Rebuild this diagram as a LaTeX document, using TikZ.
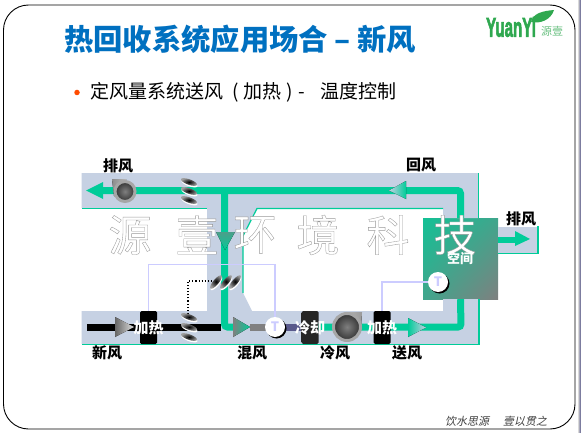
\documentclass[tikz,border=0pt]{standalone}
\usepackage{fontspec}
\setmainfont{Noto Sans CJK SC}
\newfontfamily\slantcjk[FakeSlant=0.2]{Noto Sans CJK SC}
\newfontfamily\logolatin{Liberation Sans}
\usetikzlibrary{arrows.meta,positioning,shapes.geometric,shadows,shadings,calc}
\definecolor{ductblue}{HTML}{C6D1E3}
\definecolor{flowgreen}{HTML}{00CC99}
\definecolor{titleblue}{HTML}{0070C0}
\definecolor{ctrlblue}{HTML}{CCCCFF}
\definecolor{logogreen}{HTML}{2FA84F}
\newcommand{\pxfont}[1]{\fontsize{#1}{#1}\selectfont}
\newcommand{\outlined}[1]{\special{pdf:code 2 Tr 0.35 w 0.6 G}#1\special{pdf:code 0 Tr}}
\newcommand{\thickened}[1]{\special{pdf:code 2 Tr 0.8 w 0.18 0.66 0.31 RG}#1\special{pdf:code 0 Tr}}

\begin{document}
\begin{tikzpicture}[x=1pt, y=-1pt,
  duct/.style={fill=ductblue, draw=none},
  edge/.style={draw=flowgreen, line width=1.2pt},
  flow/.style={draw=flowgreen, line width=7pt, rounded corners=3pt},
  ctrl/.style={draw=ctrlblue, line width=1.4pt},
  lab/.style={font=\pxfont{15}\bfseries, text=black, inner sep=0pt},
  heater/.style={fill=black, rounded corners=1.5pt, minimum width=17pt, minimum height=33pt, inner sep=0pt,
    label={[text=white, font=\pxfont{15}\bfseries]center:加热}},
  sensor/.style={circle, fill=white, minimum size=20pt, inner sep=0pt, font=\pxfont{13}\bfseries, text=ctrlblue,
    drop shadow={shadow xshift=1.5pt, shadow yshift=-1.5pt, fill=black, opacity=1}},
  damper/.style={ellipse, minimum width=17pt, minimum height=5.5pt, inner sep=0pt, inner color=black, outer color=gray!75,
    drop shadow={shadow xshift=.4pt, shadow yshift=-1.5pt, fill=white, opacity=1}},
  fanball/.style={circle, inner sep=0pt, inner color=gray, outer color=black!80, draw=gray!70, line width=3pt},
  wmark/.style={font=\pxfont{43}, text=white, inner sep=0pt}]
\useasboundingbox (0,0) rectangle (581,433);
\fill[white] (0,0) rectangle (581,433);
\fill[left color=gray!30, right color=blue!30!black!70] (578,0) rectangle (581,433);
\draw[black, line width=.9pt, rounded corners=25pt] (3.5,5) rectangle (575,429);
\node[font=\pxfont{29.3}\bfseries, text=titleblue, anchor=west, inner sep=0pt] (title) at (64,39) {热回收系统应用场合 – 新风};
\node[circle, fill=orange!60!red, minimum size=5.5pt, inner sep=0pt] (bullet) at (77,92.5) {};
\node[font=\pxfont{19}, anchor=west, inner sep=0pt] (subtitle) at (90,92) {定风量系统送风\hspace{9pt}(\hspace{5pt}加热\hspace{5pt})\hspace{5pt}-\hspace{16pt}温度控制};
\node[font=\pxfont{27}\bfseries\logolatin, text=logogreen, anchor=west, inner sep=0pt, xscale=.56] (logo) at (486,27) {\thickened{YuanYi}};
\node[font=\pxfont{11}, text=logogreen!70, anchor=west, inner sep=0pt] (logocn) at (541,31) {源壹};
\fill[logogreen] (531,22) .. controls (533,13) and (543,11) .. (554,10) .. controls (551,20) and (540,24) .. (531,22) -- cycle;
\node[font=\pxfont{11}\slantcjk, text=black!75, anchor=west, inner sep=0pt] (motto) at (445,421.5) {饮水思源\hspace{14pt}壹以贯之};
\node[minimum width=75pt, minimum height=81pt, inner sep=0pt, upper left=flowgreen!85!gray, upper right=flowgreen!50!gray, lower left=flowgreen!50!gray, lower right=gray] (room) at (460.5,258.5) {};
\fill[duct] (81.5,173) -- (478,173) -- (478,218) -- (443,218) -- (443,208) -- (257,208) -- (243,236) -- (243,293) -- (252,311)
  -- (443,311) -- (443,299) -- (478,299) -- (478,344) -- (81.5,344) -- (81.5,311) -- (207,311) -- (207,208) -- (81.5,208) -- cycle;
\fill[duct] (498,227) rectangle (538,253);
\draw[edge] (82,208.5) -- (207,208.5);
\draw[edge] (443,208.5) -- (257,208.5) -- (243,236) -- (243,293);
\draw[edge] (478.5,173) -- (478.5,218);
\draw[edge] (82,344.5) -- (479,344.5) -- (479,299);
\draw[edge] (498,253.5) -- (538,253.5) -- (538,226);
\coordinate (junction) at (224.5,190.5);
\coordinate (mixing) at (224.5,327);
\draw[flow] (room.north) |- (103,190.5);
\draw[line width=7pt] (87,327) -- (221,327);
\draw[flow] (junction) -- (mixing) -- (240,327);
\draw[line width=7pt, gray] (250,327) -- (275,327);
\draw[line width=7pt, blue!30!black!65] (275,327) -- (305,327);
\draw[flow] (315,327) -- (461,327) -- (room.south);
\draw[draw=flowgreen, line width=6.5pt] (498,240) -- (516,240);
\fill[flowgreen] (103,182) -- (86,190.5) -- (103,199) -- cycle;
\fill[left color=ductblue, right color=flowgreen] (406,181) -- (389,190.5) -- (406,199) -- cycle;
\fill[top color=gray!60!flowgreen, bottom color=flowgreen] (216,232) -- (235,232) -- (225,250) -- cycle;
\fill[left color=black!60, right color=gray!25] (115,317) -- (134,327) -- (115,337) -- cycle;
\fill[left color=gray, right color=flowgreen] (233,317) -- (250,327) -- (233,337) -- cycle;
\fill[left color=flowgreen, right color=ductblue] (408,318) -- (426,327.5) -- (408,337) -- cycle;
\fill[flowgreen] (515,231) -- (530,239) -- (515,246) -- cycle;
\node[heater] (heatA) at (148.5,327.5) {};
\node[heater] (heatB) at (382,327.5) {};
\node[minimum width=17pt, minimum height=33pt, inner sep=0pt, rounded corners=1.5pt, left color=black!85, middle color=blue!15!gray!70, right color=black!85,
  label={[text=white, font=\pxfont{15}\bfseries]center:冷却}] (coil) at (310,327.5) {};
\node[sensor] (senseA) at (275,327) {T};
\node[sensor] (senseB) at (438,282) {T};
\coordinate (ctrlend) at (275,264.5);
\draw[ctrl] (heatA.north) |- (ctrlend) -- (senseA.north);
\draw[ctrl] (heatB.north) |- (senseB.west);
\coordinate (dotA) at (188,317);
\coordinate (dotB) at (216,281);
\draw[dotted, line width=1.1pt] (dotA) |- (dotB);
\foreach \n/\x/\y/\r in {dmpA/189/182/-20, dmpB/189/191/-20, dmpC/189/200/-20, dmpD/189/317/-20, dmpE/189/327/-20, dmpF/189/337/-20, dmpG/216/282/50, dmpH/226/282/50, dmpI/235/282/50}
  \node[damper, rotate=\r] (\n) at (\x,\y) {};
\fill[left color=gray!90, right color=gray!55] (112,179) -- (126,179) -- (126,200) -- (114,196) -- cycle;
\node[fanball, minimum size=20pt] (fanA) at (125,191.5) {};
\fill[left color=gray!55, right color=gray!80] (345,312) -- (362,312) -- (361,328) -- (345,335) -- cycle;
\node[fanball, minimum size=27pt] (fanB) at (347,327) {};
\node[lab] (exhA) at (118,165.5) {排风};
\node[lab] (retA) at (421,165.5) {回风};
\node[lab] (exhB) at (521,219) {排风};
\node[lab] (fresh) at (107,353) {新风};
\node[lab] (mixed) at (252,353) {混风};
\node[lab] (cold) at (335,353) {冷风};
\node[lab] (supply) at (407,353) {送风};
\foreach \x/\c in {130/源,197/壹,255/环,318/境,388/科,455/技}
  \node[wmark] (wmark\x) at (\x,235) {\outlined{\c}};
\node[font=\pxfont{13}\bfseries, text=white, inner sep=0pt] (space) at (460,258) {空间};
\end{tikzpicture}
\end{document}
